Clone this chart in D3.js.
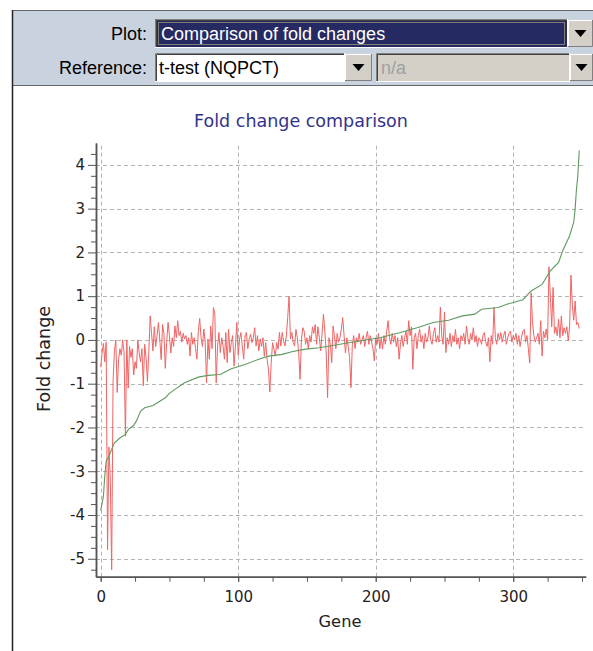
<!DOCTYPE html>
<html><head><meta charset="utf-8">
<script src="https://cdn.jsdelivr.net/npm/d3@7"></script>
<style>body{margin:0;background:#fff;} svg{display:block}</style>
</head><body>
<svg id="c" width="593" height="651"></svg>
<script>
// ---- data ----
const plotLabel = "Plot:";
const plotChoice = "Comparison of fold changes";
const referenceLabel = "Reference:";
const referenceChoice = "t-test (NQPCT)";
const secondChoice = "n/a";
const chartTitle = "Fold change comparison";
const xLabel = "Gene";
const yLabel = "Fold change";
const xTicks = [0, 100, 200, 300];
const yTicks = [-5, -4, -3, -2, -1, 0, 1, 2, 3, 4];

// fold change of compared method, one value per gene (red)
const comparisonFC = [
-0.62,-0.3,-0.08,-0.5,-0.05,-4.8,-2.45,-3.2,-5.25,-0.95,
-0.25,0.0,-1.2,-0.45,-0.2,-0.35,0.0,-0.3,-2.2,0.0,
-1.1,-0.15,-0.4,-0.2,-0.8,-0.5,-0.65,0.0,-0.3,-0.5,
-0.2,-1.05,-0.1,-0.4,-0.95,-0.3,0.55,0.15,-0.25,0.3,
-0.15,0.1,0.4,0.0,-0.45,0.35,0.15,-0.65,-0.05,0.4,
0.1,-0.3,0.05,-0.15,0.32,0.05,0.44,0.1,0.2,-0.05,
0.15,0.02,0.1,-0.1,0.05,-0.37,0.17,-0.1,0.05,-0.2,
-0.44,0.2,0.49,0.05,-0.15,0.25,-0.05,-0.98,0.02,-0.44,
0.32,-0.2,0.74,0.6,-0.98,-0.14,0.17,-0.29,0.05,-0.14,
-0.44,0.17,-0.52,0.24,-0.29,-0.06,0.1,-0.6,-0.14,0.4,
-0.35,0.02,0.17,-0.14,-0.44,0.09,0.17,-0.2,0.02,0.13,
-0.06,0.05,0.28,-0.14,0.1,-0.25,0.02,-0.15,0.05,-0.37,
-0.06,-0.44,-0.67,-1.19,-0.52,-0.06,-0.21,-0.37,-0.06,-0.21,
0.17,-0.14,0.17,-0.02,-0.14,0.09,0.51,1.0,0.02,0.17,
-0.06,-0.14,0.24,0.05,-0.3,-0.9,0.02,0.28,0.2,-0.1,
0.05,-0.2,0.1,-0.05,0.3,0.15,0.35,-0.1,0.3,0.05,
-0.25,0.15,0.59,0.2,-0.3,-1.32,0.05,-0.1,-0.52,0.32,
0.1,-0.2,0.15,-0.05,0.05,0.25,0.51,0.1,-0.3,0.05,
-0.15,-0.4,-1.09,-0.1,0.1,-0.2,0.05,-0.05,0.15,-0.1,
0.0,0.1,-0.15,0.05,0.2,-0.1,0.1,-0.05,-0.2,-0.48,
0.05,-0.1,0.15,-0.2,0.05,-0.21,0.1,-0.1,0.2,0.44,
0.05,-0.1,0.15,-0.05,0.1,-0.15,0.05,-0.44,-0.1,0.1,
-0.15,0.05,0.2,-0.1,0.44,0.1,0.3,-0.67,0.05,0.15,
-0.2,0.1,0.24,-0.05,0.1,-0.2,0.15,-0.05,0.05,0.32,
0.0,-0.1,0.15,0.28,-0.05,0.1,-0.05,0.75,0.1,-0.1,
0.64,-0.29,0.05,-0.1,0.15,-0.15,0.1,-0.05,0.24,-0.1,
0.05,-0.2,0.1,0.0,0.15,-0.1,0.32,0.05,-0.1,0.15,
0.0,0.28,-0.05,0.1,-0.15,0.05,0.0,-0.1,0.1,0.17,
-0.05,-0.15,0.05,-0.5,0.1,-0.1,0.74,0.05,-0.1,0.15,
0.0,0.17,-0.05,0.1,0.2,-0.1,0.05,0.15,0.2,-0.05,
0.1,0.0,0.15,-0.1,0.1,-0.15,0.05,0.2,0.24,-0.05,
0.1,-0.2,-0.53,1.08,0.41,0.1,-0.05,0.05,0.15,-0.1,
0.44,-0.37,0.2,0.05,0.25,0.0,1.67,1.0,0.3,1.2,
0.15,0.3,0.1,0.47,0.05,0.55,0.1,0.28,0.15,0.3,
-0.02,0.32,1.48,0.78,0.45,0.89,0.35,0.4,0.26
];

// reference (t-test) fold change, sorted; read at these gene positions (green)
const referenceGenes = [0,2,3,4,6,8,10,14,18,20,24,26,29,32,38,43,47,50,54,61,
71,78,87,95,105,115,122,132,139,149,159,174,189,203,218,230,242,253,263,272,
277,289,296,307,313,321,327,333,336,341,344,345,346,347,348];
const referenceFC = [-3.9,-3.57,-3.1,-2.77,-2.66,-2.5,-2.35,-2.24,-2.16,-2.05,
-1.95,-1.85,-1.63,-1.55,-1.5,-1.4,-1.32,-1.22,-1.13,-0.98,
-0.85,-0.81,-0.79,-0.66,-0.56,-0.44,-0.37,-0.33,-0.27,-0.21,
-0.18,-0.10,-0.02,0.05,0.17,0.28,0.40,0.45,0.55,0.59,
0.70,0.74,0.82,0.92,1.12,1.27,1.58,1.77,2.04,2.38,
2.69,2.99,3.45,3.76,4.33];

// ---- drawing ----
const svg = d3.select("#c");
const UI = "'Liberation Sans', Arial, sans-serif";
const CH = "'DejaVu Sans', Verdana, sans-serif";

// control panel
svg.append("rect").attr("x",12.5).attr("y",10.5).attr("width",585).attr("height",75)
  .attr("fill","#c9d3df").attr("stroke","#666");
svg.append("line").attr("x1",12.5).attr("x2",12.5).attr("y1",10).attr("y2",651)
  .attr("stroke","#222").attr("stroke-width",1.5);

function inset(x,y,w,h,fill){
  const g = svg.append("g");
  g.append("rect").attr("x",x).attr("y",y).attr("width",w).attr("height",h).attr("fill",fill);
  g.append("path").attr("d",`M${x+0.5},${y+h}V${y+0.5}H${x+w}`).attr("stroke","#808080").attr("fill","none");
  g.append("path").attr("d",`M${x+1.5},${y+h-1}V${y+1.5}H${x+w-1}`).attr("stroke","#404040").attr("fill","none");
  g.append("path").attr("d",`M${x},${y+h-0.5}H${x+w-0.5}V${y}`).attr("stroke","#ffffff").attr("fill","none");
  return g;
}
function button(x,y,w,h){
  svg.append("rect").attr("x",x).attr("y",y).attr("width",w).attr("height",h).attr("fill","#d4d0c8");
  svg.append("path").attr("d",`M${x+0.5},${y+h}V${y+0.5}H${x+w}`).attr("stroke","#ffffff").attr("fill","none");
  svg.append("path").attr("d",`M${x},${y+h-0.5}H${x+w-0.5}V${y}`).attr("stroke","#808080").attr("fill","none");
  const cx = x + w/2, cy = y + h/2;
  svg.append("path").attr("d",`M${cx-6},${cy-3.5}H${cx+6}L${cx},${cy+3.5}Z`).attr("fill","#000");
}

svg.append("text").attr("x",147).attr("y",39.5).attr("text-anchor","end")
  .attr("font-family",UI).attr("font-size",18).text(plotLabel);
inset(155,19,413,29,"#262a62");
svg.append("rect").attr("x",158.5).attr("y",22.5).attr("width",406).attr("height",22)
  .attr("fill","none").attr("stroke","#d8cf8a").attr("stroke-dasharray","1,1");
svg.append("text").attr("x",161).attr("y",40).attr("fill","#ffffff")
  .attr("font-family",UI).attr("font-size",18).text(plotChoice);
button(568,20,25,27);

svg.append("text").attr("x",147).attr("y",73.5).attr("text-anchor","end")
  .attr("font-family",UI).attr("font-size",18).text(referenceLabel);
inset(155,53,190,29,"#ffffff");
svg.append("text").attr("x",159).attr("y",74).attr("fill","#000")
  .attr("font-family",UI).attr("font-size",18).text(referenceChoice);
button(345,54,27,27);
inset(376,53,194,29,"#d4d0c8");
svg.append("text").attr("x",381).attr("y",74).attr("fill","#a0a0a0")
  .attr("font-family",UI).attr("font-size",18).text(secondChoice);
button(570,54,23,27);

// chart
const x = d3.scaleLinear().domain([-3.4, 352.7]).range([96, 585.7]);
const y = d3.scaleLinear().domain([-5.41, 4.5]).range([576.7, 143]);

svg.append("text").attr("x",301).attr("y",127).attr("text-anchor","middle")
  .attr("fill","#333388").attr("font-family",CH).attr("font-size",17.5).text(chartTitle);

const grid = svg.append("g").attr("stroke","#b4b4b4").attr("stroke-dasharray","4,3").attr("stroke-width",1);
grid.selectAll(".hy").data(yTicks).join("line")
  .attr("x1",x.range()[0]).attr("x2",x.range()[1])
  .attr("y1",d=>Math.round(y(d))+0.5).attr("y2",d=>Math.round(y(d))+0.5);
grid.selectAll(".vx").data(xTicks).join("line")
  .attr("y1",y.range()[0]).attr("y2",y.range()[1])
  .attr("x1",d=>Math.round(x(d))+0.5).attr("x2",d=>Math.round(x(d))+0.5);

const minorY = d3.range(-5.25, 4.5, 0.25).filter(v => Math.abs(v - Math.round(v)) > 1e-6);
const minorX = d3.range(0, 351, 25);

function styleAxis(g){
  g.selectAll("path.domain").attr("stroke","#555").attr("stroke-width",1.5);
  g.selectAll(".tick line").attr("stroke","#555");
  g.selectAll(".tick text").attr("font-family",CH).attr("font-size",15).attr("fill","#222");
}
const fmt = d => String(d);

svg.append("g").attr("transform",`translate(${x.range()[0]},0)`)
  .call(d3.axisLeft(y).tickValues(minorY).tickSize(5).tickSizeOuter(0).tickFormat(""))
  .call(styleAxis);
svg.append("g").attr("transform",`translate(${x.range()[0]},0)`)
  .call(d3.axisLeft(y).tickValues(yTicks).tickSize(8).tickSizeOuter(0).tickPadding(3).tickFormat(fmt))
  .call(styleAxis);
svg.append("g").attr("transform",`translate(0,${y.range()[0]})`)
  .call(d3.axisBottom(x).tickValues(minorX).tickSize(5).tickSizeOuter(0).tickFormat(""))
  .call(styleAxis);
svg.append("g").attr("transform",`translate(0,${y.range()[0]})`)
  .call(d3.axisBottom(x).tickValues(xTicks).tickSize(5).tickSizeOuter(0).tickPadding(10).tickFormat(fmt))
  .call(styleAxis);

svg.append("text").attr("x",340).attr("y",627).attr("text-anchor","middle")
  .attr("font-family",CH).attr("font-size",16.3).attr("fill","#222").text(xLabel);
svg.append("text").attr("transform","translate(50,359) rotate(-90)").attr("text-anchor","middle")
  .attr("font-family",CH).attr("font-size",17.5).attr("fill","#222").text(yLabel);

// series
const plot = svg.append("g");
plot.append("path").datum(comparisonFC)
  .attr("fill","none").attr("stroke","#f06464").attr("stroke-width",1)
  .attr("d", d3.line().x((d,i)=>x(i)).y(d=>y(d)));
plot.append("path").datum(referenceFC)
  .attr("fill","none").attr("stroke","#5e9a5e").attr("stroke-width",1.1)
  .attr("d", d3.line().x((d,i)=>x(referenceGenes[i])).y(d=>y(d)));
</script>
</body></html>
